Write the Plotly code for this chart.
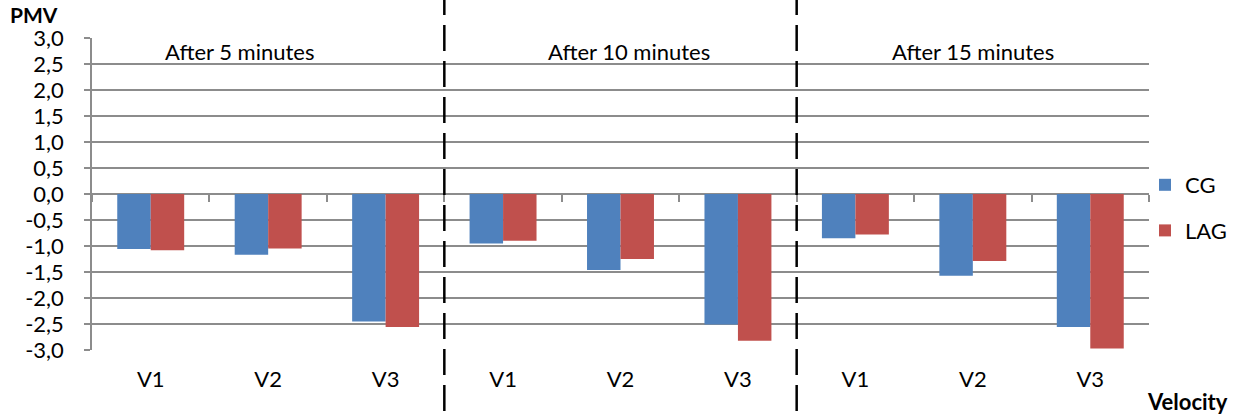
import plotly.graph_objects as go

categories = ["V1", "V2", "V3", "V1", "V2", "V3", "V1", "V2", "V3"]
cg = [-1.06, -1.17, -2.45, -0.95, -1.46, -2.51, -0.85, -1.57, -2.56]
lag = [-1.08, -1.05, -2.56, -0.90, -1.25, -2.82, -0.78, -1.29, -2.97]
groups = ["After 5 minutes", "After 10 minutes", "After 15 minutes"]
group_label_x = [0.76, 4.07, 7.0]
y_ticks = [3.0, 2.5, 2.0, 1.5, 1.0, 0.5, 0.0, -0.5, -1.0, -1.5, -2.0, -2.5, -3.0]
y_ticktext = [f"{v:.1f}".replace(".", ",") for v in y_ticks]

FONT = "Lato"
FS = 22
GRID = "#8c8c8c"
W, H = 1234, 414
ML, MR, MT, MB = 92, 85, 38, 64
PW, PH = W - ML - MR, H - MT - MB
xpos = list(range(len(categories)))


def px_x(p):
    return (p - ML) / PW


def px_y(p):
    return (H - MB - p) / PH


fig = go.Figure()
fig.add_trace(go.Bar(x=xpos, y=cg, name="CG", marker_color="#4F81BD",
                     marker_line_width=0, legendgroup="a"))
fig.add_trace(go.Bar(x=xpos, y=lag, name="LAG", marker_color="#C0504D",
                     marker_line_width=0, legendgroup="b"))
fig.add_trace(go.Scatter(x=[], y=[], xaxis="x2", showlegend=False, hoverinfo="skip"))

fig.update_layout(
    width=W, height=H,
    margin=dict(l=ML, r=MR, t=MT, b=MB, autoexpand=False),
    plot_bgcolor="white", paper_bgcolor="white",
    font=dict(family=FONT, size=FS, color="black"),
    barmode="group", bargap=0.43, bargroupgap=0,
    showlegend=True,
    legend=dict(xref="container", yref="container", x=1145 / W, y=1 - 208 / H,
                xanchor="left", yanchor="middle", bgcolor="rgba(0,0,0,0)",
                font=dict(size=FS), tracegroupgap=14, traceorder="grouped",
                itemwidth=30),
    xaxis=dict(range=[-0.5, 8.5], tickvals=xpos, ticktext=categories,
               showgrid=False, zeroline=False, showline=False, ticks="",
               ticklabelstandoff=14, tickfont=dict(size=FS), automargin=False),
    xaxis2=dict(range=[-0.5, 8.5], overlaying="x", anchor="free", position=0.5,
                side="bottom", showgrid=False, zeroline=False, showline=False,
                ticks="outside", ticklen=7, tickwidth=1.5, tickcolor=GRID,
                tickvals=[i - 0.5 for i in range(10)], showticklabels=False,
                automargin=False),
    yaxis=dict(range=[-3, 3], tickvals=y_ticks, ticktext=y_ticktext,
               showgrid=True, gridcolor=GRID, gridwidth=1.5,
               zeroline=False, showline=True, linecolor=GRID, linewidth=1.5,
               ticks="outside", ticklen=6, tickwidth=1.5, tickcolor=GRID,
               ticklabelstandoff=16, tickfont=dict(size=FS), automargin=False),
)

for bx in [2.5, 5.5]:
    fig.add_shape(type="line", xref="x", yref="paper", x0=bx, x1=bx,
                  y0=px_y(411), y1=px_y(0),
                  line=dict(color="black", width=2.5, dash="26px,10px"), layer="above")

for gx, g in zip(group_label_x, groups):
    fig.add_annotation(x=gx, y=2.74, xref="x", yref="y", text=g, showarrow=False,
                       font=dict(size=FS), xanchor="center", yanchor="middle")

fig.add_annotation(xref="paper", yref="paper", x=px_x(9), y=px_y(14),
                   text="<b>PMV</b>", showarrow=False, xanchor="left",
                   yanchor="middle", font=dict(size=21), borderpad=0)
fig.add_annotation(xref="paper", yref="paper", x=px_x(1230), y=px_y(401),
                   text="<b>Velocity</b>", showarrow=False,
                   xanchor="right", yanchor="middle", font=dict(size=FS))

fig.write_html("out.html", config={"displayModeBar": False},
               post_script="document.body.style.margin='0';document.body.style.overflow='hidden';")
